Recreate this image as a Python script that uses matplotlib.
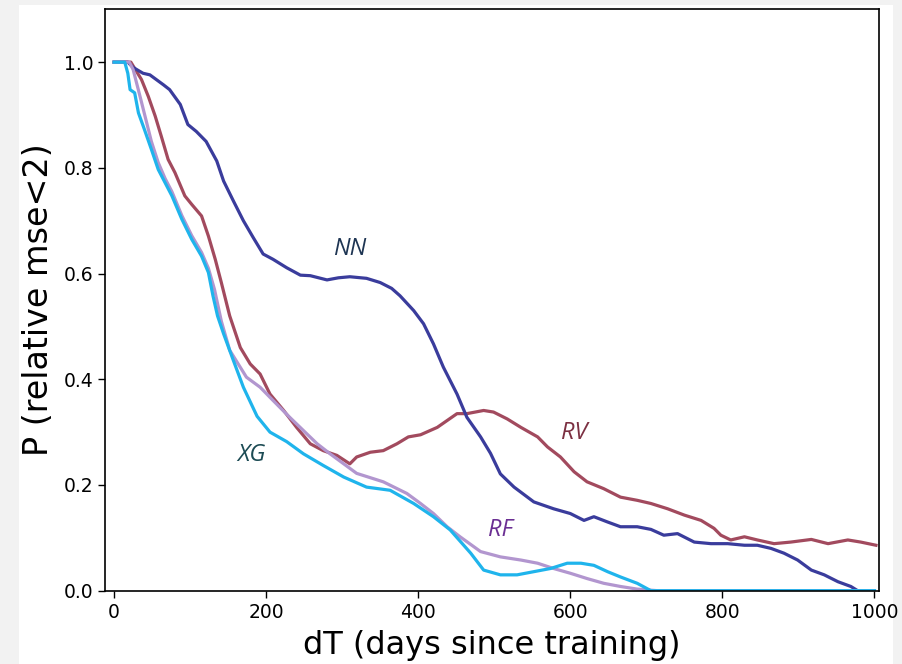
import matplotlib
matplotlib.use("Agg")
import matplotlib.pyplot as plt
from matplotlib.patches import Rectangle

# survival curves: fraction of runs with relative mse < 2 vs days since training
nn_x = [0, 18, 25, 38, 47, 65, 73, 87, 97, 108, 121, 135, 144, 157, 170, 183, 196, 209, 227, 245,
        258, 280, 295, 310, 332, 350, 365, 376, 394, 407, 420, 433, 451, 464, 482, 495, 508, 526, 552, 578,
        600, 618, 631, 649, 666, 688, 706, 723, 741, 763, 785, 807, 829, 846, 864, 881, 899, 917, 934, 952,
        969, 978, 1000]
nn_y = [1.0, 1.0, 0.99, 0.979, 0.976, 0.957, 0.948, 0.92, 0.882, 0.869, 0.85, 0.813, 0.775, 0.737, 0.70, 0.668, 0.637, 0.627, 0.611, 0.597,
        0.596, 0.588, 0.592, 0.594, 0.591, 0.583, 0.572, 0.558, 0.530, 0.505, 0.467, 0.423, 0.372, 0.328, 0.291, 0.26, 0.221, 0.196, 0.168, 0.155,
        0.146, 0.133, 0.140, 0.130, 0.121, 0.121, 0.116, 0.105, 0.108, 0.092, 0.089, 0.089, 0.086, 0.086, 0.080, 0.071, 0.058, 0.039, 0.030, 0.017,
        0.008, 0.0, 0.0]

rv_x = [0, 22, 36, 45, 54, 62, 71, 80, 93, 102, 115, 124, 133, 141, 152, 166, 179, 192, 205, 223,
        240, 258, 275, 293, 310, 319, 337, 354, 372, 387, 403, 425, 451, 464, 486, 499, 517, 535, 557, 570,
        587, 605, 622, 644, 666, 688, 706, 728, 750, 772, 789, 798, 811, 829, 846, 868, 890, 917, 939, 965,
        982, 1002]
rv_y = [1.0, 1.0, 0.967, 0.935, 0.898, 0.86, 0.816, 0.791, 0.747, 0.731, 0.709, 0.671, 0.627, 0.583, 0.52, 0.46, 0.429, 0.41, 0.372, 0.341,
        0.309, 0.278, 0.265, 0.256, 0.240, 0.253, 0.262, 0.265, 0.278, 0.291, 0.295, 0.309, 0.335, 0.335, 0.341, 0.338, 0.325, 0.309, 0.291, 0.272,
        0.253, 0.225, 0.206, 0.193, 0.177, 0.171, 0.165, 0.155, 0.143, 0.133, 0.118, 0.105, 0.096, 0.102, 0.096, 0.089, 0.092, 0.097, 0.089, 0.096,
        0.092, 0.086]

rf_x = [0, 20, 25, 35, 49, 58, 67, 76, 89, 102, 115, 124, 132, 141, 152, 174, 192, 209, 231, 249,
        267, 284, 302, 319, 354, 385, 403, 420, 438, 455, 482, 508, 535, 557, 578, 600, 622, 644, 666, 688,
        715, 1000]
rf_y = [1.0, 1.0, 0.986, 0.93, 0.85, 0.81, 0.78, 0.755, 0.71, 0.672, 0.64, 0.61, 0.57, 0.51, 0.455, 0.404, 0.385, 0.360, 0.328, 0.303,
        0.278, 0.259, 0.240, 0.222, 0.206, 0.184, 0.165, 0.146, 0.121, 0.102, 0.074, 0.064, 0.058, 0.052, 0.042, 0.033, 0.023, 0.014, 0.008, 0.003,
        0.0, 0.0]

xg_x = [0, 14, 18, 21, 27, 32, 40, 49, 58, 67, 76, 89, 102, 115, 124, 130, 136, 144, 157, 170,
        188, 205, 227, 249, 275, 302, 332, 363, 394, 420, 442, 469, 486, 508, 530, 552, 574, 596, 614, 631,
        649, 666, 688, 706, 1000]
xg_y = [1.0, 1.0, 0.979, 0.948, 0.942, 0.904, 0.872, 0.835, 0.797, 0.772, 0.747, 0.703, 0.665, 0.633, 0.602, 0.558, 0.52, 0.486, 0.435, 0.385,
        0.33, 0.30, 0.282, 0.259, 0.237, 0.215, 0.196, 0.190, 0.165, 0.140, 0.115, 0.071, 0.039, 0.030, 0.030, 0.036, 0.042, 0.052, 0.052, 0.048,
        0.036, 0.026, 0.014, 0.0, 0.0]

fig = plt.figure(figsize=(9.03, 6.64), dpi=100, facecolor="#f2f2f2")
# white page behind everything, thin grey margin left and top
fig.patches.append(Rectangle((19 / 903, 0), 874 / 903, 659 / 664,
                             transform=fig.transFigure, facecolor="white", edgecolor="none", zorder=-10))

ax = fig.add_axes([105 / 903, 73.3 / 664, 774 / 903, 581.4 / 664])

ax.plot(rv_x, rv_y, color="#a24a5e", lw=2.3)
ax.plot(nn_x, nn_y, color="#3a3c9c", lw=2.3)
ax.plot(rf_x, rf_y, color="#b296cf", lw=2.3)
ax.plot(xg_x, xg_y, color="#1fb4ec", lw=2.3)

lab_font = dict(fontsize=17, style="italic", family=["Open Sans", "DejaVu Sans"])
ax.text(310, 0.647, "NN", color="#1e3553", ha="center", va="center", **lab_font)
ax.text(605, 0.298, "RV", color="#7c3042", ha="center", va="center", **lab_font)
ax.text(508, 0.115, "RF", color="#6b2f93", ha="center", va="center", **lab_font)
ax.text(181, 0.256, "XG", color="#1c4b54", ha="center", va="center", **lab_font)

ax.set_xlim(-12, 1006)
ax.set_ylim(0, 1.1)
ax.set_xticks([0, 200, 400, 600, 800, 1000])
ax.set_yticks([0.0, 0.2, 0.4, 0.6, 0.8, 1.0])
ax.tick_params(labelsize=13.5, length=5, width=1)
for s in ax.spines.values():
    s.set_linewidth(1.2)

ax.set_xlabel("dT (days since training)", fontsize=23, labelpad=6)
ax.set_ylabel("P (relative mse<2)", fontsize=24, labelpad=6)

fig.savefig("out.png", dpi=100, facecolor=fig.get_facecolor())
